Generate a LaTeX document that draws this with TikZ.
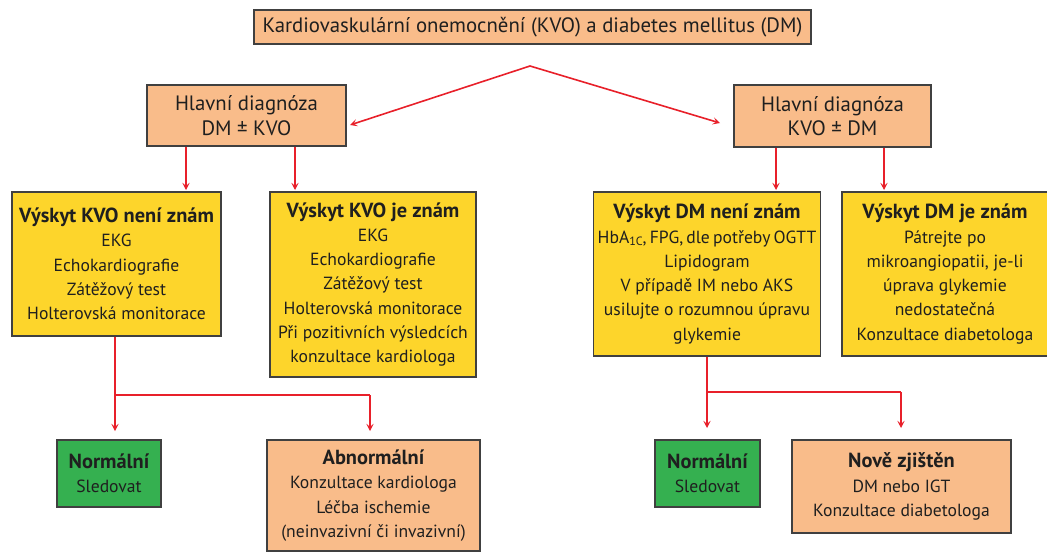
\documentclass[tikz,border=0pt]{standalone}
\usepackage{fontspec}
\setmainfont{PT Sans}
\usetikzlibrary{arrows.meta}
\definecolor{peach}{HTML}{F9BC8A}
\definecolor{yell}{HTML}{FDD52B}
\definecolor{grn}{HTML}{35B050}
\definecolor{redl}{HTML}{E8202A}
\definecolor{edge}{HTML}{404040}
\newcommand\bhead[1]{{\fontsize{15.3pt}{18pt}\selectfont\bfseries #1}}
\newcommand\subc[1]{\raisebox{-0.25ex}{\fontsize{9pt}{9pt}\selectfont #1}}
\tikzset{
  box/.style={draw=edge, line width=0.9pt, align=center, inner sep=0pt,
    font=\fontsize{13.2pt}{18.2pt}\selectfont, text=black!88},
  bigtext/.style={font=\fontsize{15.6pt}{18.5pt}\selectfont},
  pbox/.style={box, fill=peach},
  ybox/.style={box, fill=yell},
  gbox/.style={box, fill=grn},
  rline/.style={draw=redl, line width=1.2pt},
  arr/.style={rline, -{Stealth[length=5.5pt,width=5.5pt,inset=2.5pt]}},
}
\begin{document}
\begin{tikzpicture}[x=0.75pt,y=-0.75pt]
\useasboundingbox (0,0) rectangle (1047,554);
% top
\node[pbox, bigtext, minimum width={557*0.75pt}, minimum height={34*0.75pt}] (top) at (532.5,27) {Kardiovaskulární onemocnění (KVO) a diabetes mellitus (DM)};
% level 2
\node[pbox, bigtext, minimum width={199*0.75pt}, minimum height={61*0.75pt}] (h1) at (246.5,115.5) {Hlavní diagnóza\\DM ± KVO};
\node[pbox, bigtext, minimum width={197*0.75pt}, minimum height={62*0.75pt}] (h2) at (832.5,116) {Hlavní diagnóza\\KVO ± DM};
% level 3
\node[ybox, minimum width={209*0.75pt}, minimum height={144*0.75pt}] (b1) at (116.5,264) {\bhead{Výskyt KVO není znám}\\EKG\\Echokardiografie\\Zátěžový test\\Holterovská monitorace};
\node[ybox, minimum width={206*0.75pt}, minimum height={185*0.75pt}] (b2) at (373,284.5) {\bhead{Výskyt KVO je znám}\\EKG\\Echokardiografie\\Zátěžový test\\Holterovská monitorace\\Při pozitivních výsledcích\\konzultace kardiologa};
\node[ybox, minimum width={227*0.75pt}, minimum height={164*0.75pt}] (b3) at (707,274) {\bhead{Výskyt DM není znám}\\{\spaceskip=0.18em\relax HbA\subc{1C}, FPG, dle potřeby OGTT}\\Lipidogram\\V případě IM nebo AKS\\usilujte o rozumnou úpravu\\glykemie};
\node[ybox, minimum width={206*0.75pt}, minimum height={164*0.75pt}] (b4) at (945,274) {\bhead{Výskyt DM je znám}\\Pátrejte po\\mikroangiopatii, je-li\\úprava glykemie\\nedostatečná\\Konzultace diabetologa};
% level 4
\node[gbox, minimum width={104*0.75pt}, minimum height={67*0.75pt}] (n1) at (109,473.5) {\bhead{Normální}\\Sledovat};
\node[pbox, minimum width={213*0.75pt}, minimum height={111*0.75pt}] (ab) at (373.5,495.5) {\bhead{Abnormální}\\Konzultace kardiologa\\Léčba ischemie\\(neinvazivní či invazivní)};
\node[gbox, minimum width={105*0.75pt}, minimum height={67*0.75pt}] (n2) at (707.5,473.5) {\bhead{Normální}\\Sledovat};
\node[pbox, minimum width={219*0.75pt}, minimum height={93*0.75pt}] (nz) at (901.5,486.5) {\bhead{Nově zjištěn}\\DM nebo IGT\\Konzultace diabetologa};
% connectors top
\coordinate (peak) at (530,66);
\coordinate (la) at (350,125);
\coordinate (ra) at (720,123);
\draw[arr] (peak) -- (la);
\draw[arr] (peak) -- (ra);
% level 2 -> 3
\coordinate (x1) at (186,190);
\coordinate (x2) at (295,190);
\coordinate (x3) at (776,190);
\coordinate (x4) at (884,190);
\draw[arr] (h1.south -| x1) -- (x1);
\draw[arr] (h1.south -| x2) -- (x2);
\draw[arr] (h2.south -| x3) -- (x3);
\draw[arr] (h2.south -| x4) -- (x4);
% level 3 -> 4 left
\coordinate (j1) at (115,395);
\coordinate (j2) at (370,395);
\coordinate (e1) at (115,431);
\coordinate (e2) at (370,431);
\draw[rline] (b1.south -| j1) -- (j1) -- (j2);
\draw[arr] (j1) -- (e1);
\draw[arr] (j2) -- (e2);
% right
\coordinate (j3) at (707,392);
\coordinate (j4) at (901,392);
\coordinate (e3) at (707,428);
\coordinate (e4) at (901,428);
\draw[rline] (b3.south -| j3) -- (j3) -- (j4);
\draw[arr] (j3) -- (e3);
\draw[arr] (j4) -- (e4);
\end{tikzpicture}
\end{document}
